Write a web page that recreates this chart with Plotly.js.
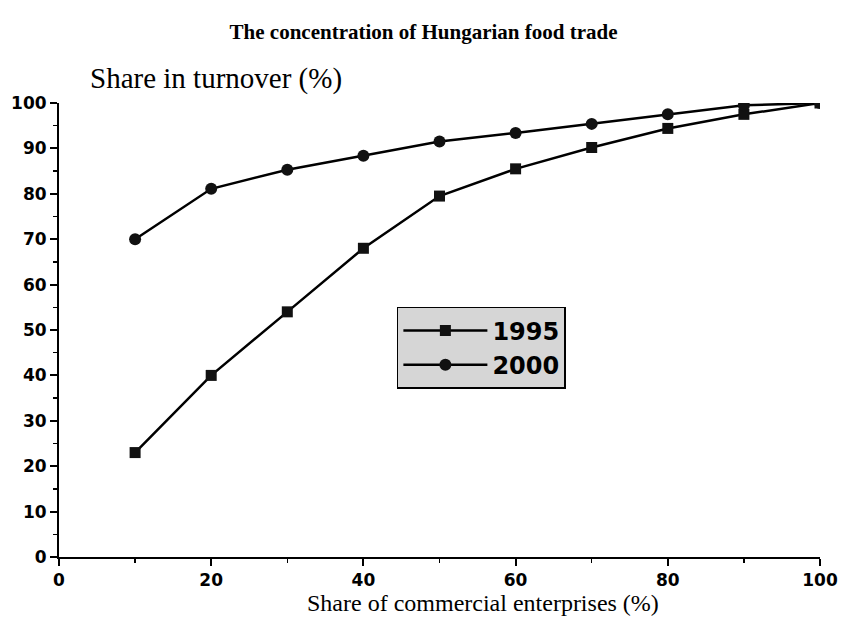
<!DOCTYPE html>
<html>
<head>
<meta charset="utf-8">
<script src="https://cdn.plot.ly/plotly-3.0.1.min.js"></script>
<style>html,body{margin:0;padding:0;background:#fff;}#chart{width:845px;height:617px;}</style>
</head>
<body>
<div id="chart"></div>
<script>
var shareEnterprises = [10, 20, 30, 40, 50, 60, 70, 80, 90, 100];
var turnover1995 = [23, 40, 54, 68, 79.5, 85.5, 90.2, 94.4, 97.5, 100];
var turnover2000 = [70, 81.1, 85.3, 88.4, 91.5, 93.4, 95.4, 97.5, 99.5, 100];
var seriesNames = ["1995", "2000"];

var traces = [
  {x: shareEnterprises, y: turnover1995, name: seriesNames[0], mode: "lines+markers", type: "scatter",
   line: {color: "#000", width: 2.5}, marker: {symbol: "square", size: 11, color: "#111"}},
  {x: shareEnterprises, y: turnover2000, name: seriesNames[1], mode: "lines+markers", type: "scatter",
   line: {color: "#000", width: 2.5}, marker: {symbol: "circle", size: 12, color: "#111"}}
];

var tickFont = {family: "DejaVu Sans, Arial, sans-serif", size: 17, color: "#000", weight: "bold"};

var layout = {
  width: 845, height: 617,
  margin: {l: 59, r: 25, t: 103, b: 60},
  paper_bgcolor: "#fff", plot_bgcolor: "#fff",
  title: {text: "<b>The concentration of Hungarian food trade</b>", x: 0.479, xref: "paper", xanchor: "center", y: 0.948, yanchor: "middle",
          font: {family: "Liberation Serif, Times New Roman, serif", size: 21, color: "#000"}},
  xaxis: {range: [0, 100], showgrid: false, zeroline: false, showline: true, linecolor: "#000", linewidth: 2,
          tickmode: "array", tickvals: [0, 20, 40, 60, 80, 100], ticks: "outside", ticklen: 7, tickwidth: 2, tickcolor: "#000",
          minor: {tickvals: [10, 30, 50, 70, 90], ticks: "outside", ticklen: 4, tickwidth: 1.5, tickcolor: "#000"},
          tickfont: tickFont, title: {text: ""}},
  yaxis: {range: [0, 100], showgrid: false, zeroline: false, showline: true, linecolor: "#000", linewidth: 2,
          tickmode: "array", tickvals: [0, 10, 20, 30, 40, 50, 60, 70, 80, 90, 100], ticks: "outside", ticklen: 7, tickwidth: 2, tickcolor: "#000",
          minor: {tickvals: [5, 15, 25, 35, 45, 55, 65, 75, 85, 95], ticks: "outside", ticklen: 4, tickwidth: 1.5, tickcolor: "#000"},
          tickfont: tickFont, title: {text: ""}},
  showlegend: true,
  legend: {x: 0.444, y: 0.551, xanchor: "left", yanchor: "top", bgcolor: "#d6d6d6", bordercolor: "#000", borderwidth: 1.5,
           font: {family: "DejaVu Sans, Arial, sans-serif", size: 24, color: "#000", weight: "bold"},
           itemwidth: 84, tracegroupgap: 0},
  annotations: [
    {text: "Share in turnover (%)", xref: "paper", yref: "paper", x: 0.038, y: 1.055, xanchor: "left", yanchor: "middle",
     showarrow: false, font: {family: "Liberation Serif, Times New Roman, serif", size: 29, color: "#000"}},
    {text: "Share of commercial enterprises (%)", xref: "paper", yref: "paper", x: 0.557, y: -0.1315, xanchor: "center", yanchor: "bottom",
     showarrow: false, borderpad: 0, font: {family: "Liberation Serif, Times New Roman, serif", size: 24, color: "#000"}}
  ]
};

Plotly.newPlot("chart", traces, layout, {displayModeBar: false, staticPlot: true});
</script>
</body>
</html>
